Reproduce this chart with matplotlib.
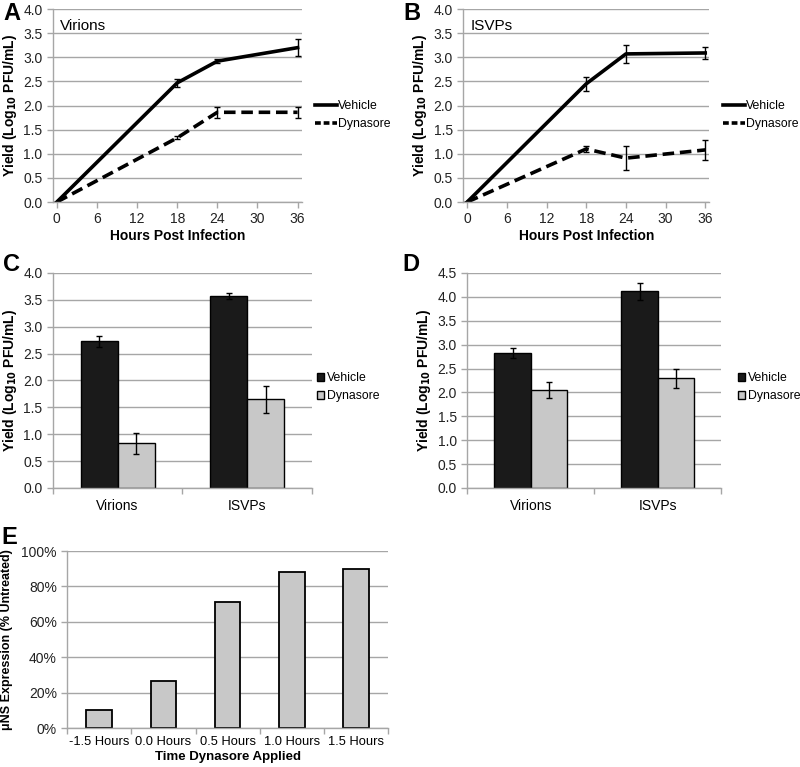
import numpy as np
import matplotlib.pyplot as plt
from matplotlib.lines import Line2D

plt.rcParams["font.family"] = ["Liberation Sans", "DejaVu Sans"]

# ==================================================
# DATA
# ==================================================

hours = [0, 18, 24, 36]

virions_vehicle = [0.0, 2.47, 2.92, 3.20]
virions_vehicle_err = [0.0, 0.08, 0.04, 0.18]
virions_dyn = [0.0, 1.33, 1.86, 1.86]
virions_dyn_err = [0.0, 0.03, 0.12, 0.12]

isvp_vehicle = [0.0, 2.45, 3.07, 3.09]
isvp_vehicle_err = [0.0, 0.14, 0.18, 0.12]
isvp_dyn = [0.0, 1.10, 0.91, 1.08]
isvp_dyn_err = [0.0, 0.06, 0.25, 0.20]

bar_groups = ["Virions", "ISVPs"]
c_vehicle = [2.73, 3.57]
c_vehicle_err = [0.10, 0.06]
c_dyn = [0.83, 1.65]
c_dyn_err = [0.20, 0.25]

d_vehicle = [2.83, 4.12]
d_vehicle_err = [0.10, 0.18]
d_dyn = [2.05, 2.30]
d_dyn_err = [0.17, 0.20]

e_times = ["-1.5 Hours", "0.0 Hours", "0.5 Hours", "1.0 Hours", "1.5 Hours"]
e_values = [10, 26.5, 71, 88, 90]

GRID = "#a6a6a6"
DARK = "#1a1a1a"
LIGHT = "#c8c8c8"
TICK_FS = 10
LABEL_FS = 10
LEG_FS = 8.8
DASH = (0, (3.2, 1.6))

ylabel = r"Yield (Log$_{\mathbf{10}}$ PFU/mL)"

fig = plt.figure(figsize=(8, 7.67), dpi=100)
W, H = 800.0, 767.0


def style_axes(ax):
    for s in ["top", "right"]:
        ax.spines[s].set_visible(False)
    for s in ["left", "bottom"]:
        ax.spines[s].set_color(GRID)
        ax.spines[s].set_linewidth(1.0)
    ax.yaxis.grid(True, color=GRID, linewidth=1.0)
    ax.set_axisbelow(True)
    ax.tick_params(colors=GRID, labelcolor="#222222", labelsize=TICK_FS,
                   length=4, width=1.0)


def letter(x_px, y_px, s):
    fig.text(x_px / W, 1 - y_px / H, s, fontsize=17, fontweight="bold",
             va="top", ha="left")


# ==================================================
# LINE PANELS A, B
# ==================================================

def line_panel(rect, veh, veh_err, dyn, dyn_err, title, leg_px):
    ax = fig.add_axes(rect)
    style_axes(ax)
    ax.errorbar(hours, veh, yerr=veh_err, color="black", lw=2.6,
                elinewidth=1.0, capsize=2.5, capthick=1.0)
    ax.errorbar(hours, dyn, yerr=dyn_err, color="black", lw=2.6, ls=DASH,
                elinewidth=1.0, capsize=2.5, capthick=1.0)
    ax.set_xlim(-0.6, 36.6)
    ax.set_ylim(0, 4.0)
    ax.set_xticks(range(0, 37, 6))
    ax.set_yticks(np.arange(0, 4.01, 0.5))
    ax.yaxis.set_major_formatter(plt.FormatStrFormatter("%.1f"))
    ax.set_xlabel("Hours Post Infection", fontsize=LABEL_FS,
                  fontweight="bold", labelpad=2)
    ax.set_ylabel(ylabel, fontsize=LABEL_FS, fontweight="bold", labelpad=3)
    ax.text(0.03, 0.95, title, transform=ax.transAxes, fontsize=11,
            va="top", ha="left")
    handles = [Line2D([], [], color="black", lw=2.6),
               Line2D([], [], color="black", lw=2.6, ls=(0, (1.6, 0.8)))]
    ax.legend(handles, ["Vehicle", "Dynasore"], loc="center left",
              bbox_to_anchor=(leg_px[0] / W, 1 - leg_px[1] / H),
              bbox_transform=fig.transFigure, frameon=False, fontsize=LEG_FS,
              handlelength=1.8, handletextpad=0.05, labelspacing=0.5,
              borderpad=0, borderaxespad=0)
    return ax


line_panel([0.066, 0.7366, 0.311, 0.2516], virions_vehicle,
           virions_vehicle_err, virions_dyn, virions_dyn_err, "Virions",
           (315, 115))
line_panel([0.579, 0.7366, 0.3075, 0.2516], isvp_vehicle,
           isvp_vehicle_err, isvp_dyn, isvp_dyn_err, "ISVPs", (723, 115))
letter(3, 2, "A")
letter(403, 2, "B")

# ==================================================
# BAR PANELS C, D
# ==================================================

def bar_panel(rect, veh, veh_err, dyn, dyn_err, ymax, leg_px):
    ax = fig.add_axes(rect)
    style_axes(ax)
    x = np.arange(len(bar_groups))
    w = 0.286
    ax.bar(x - w / 2, veh, w, yerr=veh_err, color=DARK, edgecolor="black",
           linewidth=1.0, label="Vehicle",
           error_kw=dict(elinewidth=1.0, capsize=2.5, capthick=1.0))
    ax.bar(x + w / 2, dyn, w, yerr=dyn_err, color=LIGHT, edgecolor="black",
           linewidth=1.0, label="Dynasore",
           error_kw=dict(elinewidth=1.0, capsize=2.5, capthick=1.0))
    ax.set_xlim(-0.5, 1.5)
    ax.set_ylim(0, ymax)
    ax.set_yticks(np.arange(0, ymax + 0.01, 0.5))
    ax.yaxis.set_major_formatter(plt.FormatStrFormatter("%.1f"))
    ax.set_xticks([-0.5, 0.5, 1.5])
    ax.set_xticklabels([])
    ax.set_xticks(x, minor=True)
    ax.set_xticklabels(bar_groups, minor=True)
    ax.tick_params(axis="x", which="minor", length=0, pad=8)
    ax.set_ylabel(ylabel, fontsize=LABEL_FS, fontweight="bold", labelpad=3)
    ax.legend(loc="center left",
              bbox_to_anchor=(leg_px[0] / W, 1 - leg_px[1] / H),
              bbox_transform=fig.transFigure, frameon=False, fontsize=LEG_FS,
              handlelength=0.6, handleheight=0.6, handletextpad=0.2,
              labelspacing=0.5, borderpad=0, borderaxespad=0)
    return ax


bar_panel([0.066, 0.3638, 0.324, 0.2803], c_vehicle, c_vehicle_err,
          c_dyn, c_dyn_err, 4.0, (317, 387))
bar_panel([0.584, 0.3638, 0.3175, 0.2803], d_vehicle, d_vehicle_err,
          d_dyn, d_dyn_err, 4.5, (738, 387))
letter(3, 253, "C")
letter(402, 253, "D")

# ==================================================
# PANEL E
# ==================================================

ax = fig.add_axes([0.084, 0.0508, 0.401, 0.2308])
style_axes(ax)
xe = np.arange(len(e_times))
ax.bar(xe, e_values, 0.4, color=LIGHT, edgecolor="black", linewidth=1.3)
ax.set_xlim(-0.5, len(e_times) - 0.5)
ax.set_ylim(0, 100)
ax.set_yticks(range(0, 101, 20))
ax.set_yticklabels([f"{v}%" for v in range(0, 101, 20)])
ax.set_xticks(np.arange(-0.5, len(e_times), 1.0))
ax.set_xticklabels([])
ax.set_xticks(xe, minor=True)
ax.set_xticklabels(e_times, minor=True)
ax.tick_params(axis="x", which="minor", length=0, pad=6, labelsize=9.3)
ax.set_xlabel("Time Dynasore Applied", fontsize=9.5, fontweight="bold",
              labelpad=2)
ax.set_ylabel("\u03bcNS Expression (% Untreated)", fontsize=9,
              fontweight="bold", labelpad=6)
letter(1, 526, "E")

fig.savefig("out.png", dpi=100)
